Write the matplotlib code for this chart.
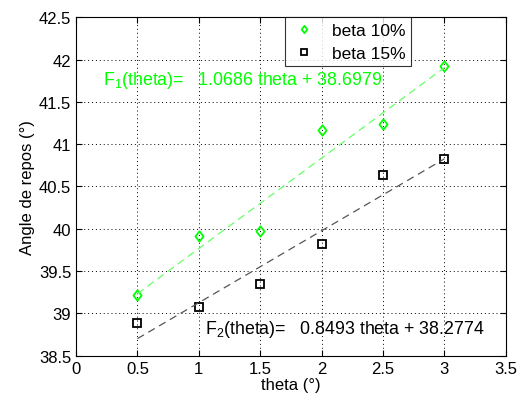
import numpy as np
import matplotlib
matplotlib.use("Agg")
import matplotlib.pyplot as plt
from matplotlib.path import Path

plt.rcParams['font.family'] = ['Liberation Sans', 'DejaVu Sans']
plt.rcParams['mathtext.fontset'] = 'custom'
plt.rcParams['mathtext.rm'] = 'Liberation Sans'

theta = [0.5, 1.0, 1.5, 2.0, 2.5, 3.0]
beta10 = [39.22, 39.91, 39.97, 41.17, 41.24, 41.92]
beta15 = [38.89, 39.08, 39.35, 39.82, 40.64, 40.83]
fit1 = (1.0686, 38.6979)
fit2 = (0.8493, 38.2774)
labels = ['beta 10%', 'beta 15%']

# slightly narrow diamond, like MATLAB's 'd' marker
diamond = Path([(0, 1), (0.78, 0), (0, -1), (-0.78, 0), (0, 1)],
               [Path.MOVETO, Path.LINETO, Path.LINETO, Path.LINETO, Path.CLOSEPOLY])

fig = plt.figure(figsize=(5.18, 4.02), dpi=100)
ax = fig.add_axes([0.147, 0.1127, 0.829, 0.8418])

green = '#00ff00'
ax.plot(theta, beta10, linestyle='none', marker=diamond, markersize=7.5,
        markerfacecolor='none', markeredgecolor=green, markeredgewidth=1.3,
        label=labels[0])
ax.plot(theta, beta15, linestyle='none', marker='s', markersize=6.3,
        markerfacecolor='none', markeredgecolor='black', markeredgewidth=1.3,
        label=labels[1])

xs = np.array([theta[0], theta[-1]])
ax.plot(xs, fit1[0] * xs + fit1[1], linestyle=(0, (6, 4)), color='#66ff66',
        linewidth=0.9)
ax.plot(xs, fit2[0] * xs + fit2[1], linestyle=(0, (6, 4)), color='#555555',
        linewidth=0.9)

ax.text(0.22, 41.77, r'F$_{\mathrm{1}}$(theta)=   %.4f theta + %.4f' % fit1,
        color=green, fontsize=12.8, va='center')
ax.text(1.05, 38.82, r'F$_{\mathrm{2}}$(theta)=   %.4f theta + %.4f' % fit2,
        color='black', fontsize=12.8, va='center')

ax.set_xlim(0, 3.5)
ax.set_ylim(38.5, 42.5)
ax.set_xticks(np.arange(0, 3.51, 0.5))
ax.set_yticks(np.arange(38.5, 42.51, 0.5))
ax.set_xticklabels(['0', '0.5', '1', '1.5', '2', '2.5', '3', '3.5'])
ax.set_yticklabels(['38.5', '39', '39.5', '40', '40.5', '41', '41.5', '42', '42.5'])
ax.tick_params(direction='in', top=True, right=True, labelsize=12, length=4)
ax.grid(True, linestyle=(0, (1, 3)), color='black', linewidth=0.7)
ax.set_xlabel('theta (°)', fontsize=12, labelpad=1)
ax.set_ylabel('Angle de repos (°)', fontsize=12, labelpad=3)

leg = ax.legend(loc='upper left', bbox_to_anchor=(0.487, 1.0), fontsize=12.5,
                frameon=True, fancybox=False, edgecolor='black',
                borderaxespad=0, handlelength=1.6, handletextpad=0.8,
                borderpad=0.3, labelspacing=0.45, markerscale=0.7)
leg.get_frame().set_linewidth(0.8)

fig.savefig('out.png', dpi=100, facecolor='white')
